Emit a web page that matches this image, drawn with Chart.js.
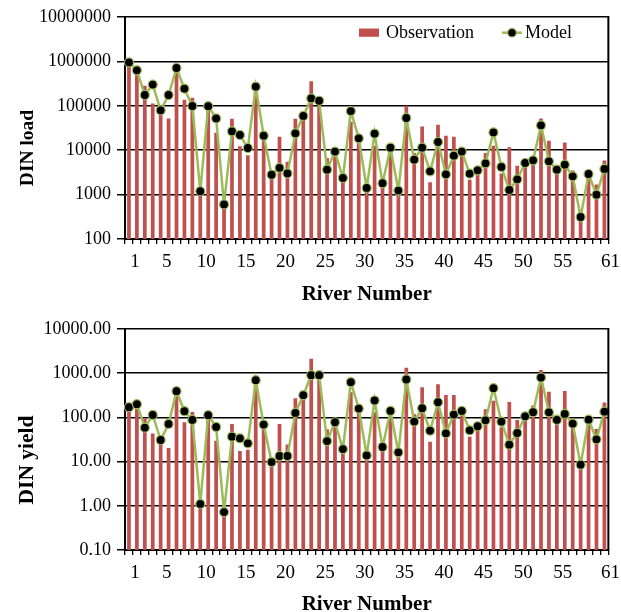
<!DOCTYPE html>
<html>
<head>
<meta charset="utf-8">
<script src="https://cdn.jsdelivr.net/npm/chart.js@4.4.0/dist/chart.umd.min.js"></script>
<style>
html,body{margin:0;padding:0;background:#fff;overflow:hidden;width:621px;height:612px;}
.box{position:absolute;left:0;width:621px;}
#b1{top:0;height:310px;}
#b2{top:310px;height:312px;}
</style>
</head>
<body>
<div class="box" id="b1"><canvas id="c1"></canvas></div>
<div class="box" id="b2"><canvas id="c2"></canvas></div>
<script>
const riverNumbers = ['1','2','3','4','5','6','7','8','9','10','11','12','13','14','15','16','17','18','19','20',
  '21','22','23','24','25','26','27','28','29','30','31','32','33','34','35','36','37','38','39','40',
  '41','42','43','44','45','46','47','48','49','50','51','52','53','54','55','56','57','58','59','60','61'];
const shownXTicks = ['1','5','10','15','20','25','30','35','40','45','50','55','61'];

const obsLoad = [900000, 800000, 284000, 112000, 95000, 52000, 650000, 137000, 152000, 1200,
  88000, 24800, 650, 51000, 12200, 7650, 230000, 19000, 2600, 20200,
  5500, 51000, 62000, 356000, 115000, 6670, 8700, 2500, 44000, 17000,
  1300, 12600, 1550, 10000, 1100, 100700, 8600, 34400, 1890, 37600,
  21200, 20200, 8600, 2170, 3300, 8600, 12600, 3000, 11600, 4490,
  6500, 6000, 52000, 16400, 3600, 15000, 3500, 300, 2900, 1680, 5890];
const modLoad = [950000, 630000, 175000, 300000, 79000, 175000, 710000, 243000, 99000, 1190,
  98000, 52000, 600, 26600, 22000, 11200, 270000, 21200, 2800, 4000,
  3000, 24000, 59000, 147000, 130000, 3650, 9300, 2370, 76000, 18500,
  1410, 23600, 1800, 11400, 1230, 53100, 6120, 11400, 3340, 15300,
  2860, 7530, 9300, 2960, 3520, 5060, 25200, 4190, 1270, 2210,
  5150, 5910, 36300, 5610, 3650, 4720, 2580, 313, 2910, 995, 3780];

const obsYield = [140, 249, 95, 43, 38, 20.3, 323, 77.6, 133, 1.1,
  95, 29.8, 0.75, 71, 17.3, 18.6, 640, 67, 9, 71,
  24.5, 272, 372, 2120, 850, 54, 67, 18, 372, 135,
  12, 131, 20, 125, 15, 1330, 118, 483, 28.3, 565,
  323, 323, 115, 36.7, 52, 153, 237, 59.7, 224, 87.6,
  115, 185, 1175, 378, 115, 398, 95, 8.5, 95, 54.7, 217];
const modYield = [170, 199, 58.7, 114, 30.8, 71, 392, 138, 87.6, 1.1,
  112, 60.8, 0.72, 36.7, 33.6, 25.9, 696, 68.7, 9.76, 13.4,
  13.4, 126, 318, 904, 904, 29.2, 77.6, 19.2, 627, 158,
  13.8, 241, 21.4, 140, 16.2, 721, 80.3, 161, 50, 220,
  43.6, 116, 140, 51, 63, 86, 458, 80, 24.1, 44.4,
  106, 131, 800, 130, 87.6, 120, 72.3, 8.5, 89, 31.9, 135];

const loadTickValues = [100, 1000, 10000, 100000, 1000000, 10000000];
const loadTickLabels = ['100', '1000', '10000', '100000', '1000000', '10000000'];
const yieldTickValues = [0.1, 1, 10, 100, 1000, 10000];
const yieldTickLabels = ['0.10', '1.00', '10.00', '100.00', '1000.00', '10000.00'];

const FONT = "'Liberation Serif', 'Times New Roman', serif";
const RED = '#C0504D';
const GREEN = '#9BBB59';

const decorPlugin = {
  id: 'decor',
  afterDraw(chart, args, opts) {
    const ctx = chart.ctx, a = chart.chartArea;
    ctx.save();
    ctx.strokeStyle = '#000';
    ctx.lineWidth = 2;
    ctx.beginPath();
    ctx.moveTo(a.right, a.top - 1);
    ctx.lineTo(a.right, a.bottom);
    ctx.stroke();
    ctx.restore();

    ctx.save();
    ctx.translate(opts.titleX, opts.titleY);
    ctx.rotate(-Math.PI / 2);
    ctx.font = 'bold ' + opts.titleSize + 'px ' + FONT;
    ctx.textAlign = 'center';
    ctx.textBaseline = 'alphabetic';
    ctx.fillStyle = '#000';
    ctx.fillText(opts.title, 0, 0);
    ctx.restore();

    if (opts.legend) {
      const ds = chart.data.datasets;
      const bar = ds.find(d => d.type !== 'line');
      const line = ds.find(d => d.type === 'line');
      const y = 32.7;
      ctx.save();
      ctx.fillStyle = bar.backgroundColor;
      ctx.fillRect(359, 28.5, 20, 8.3);
      ctx.font = '18px ' + FONT;
      ctx.fillStyle = '#000';
      ctx.textBaseline = 'middle';
      ctx.textAlign = 'left';
      ctx.fillText(bar.label, 386, y + 1);
      ctx.strokeStyle = line.borderColor;
      ctx.lineWidth = 2.5;
      ctx.beginPath();
      ctx.moveTo(502, y);
      ctx.lineTo(522, y);
      ctx.stroke();
      ctx.beginPath();
      ctx.arc(512, y, 4.3, 0, Math.PI * 2);
      ctx.fillStyle = line.pointBackgroundColor;
      ctx.fill();
      ctx.lineWidth = 1.2;
      ctx.strokeStyle = line.pointBorderColor;
      ctx.stroke();
      ctx.fillStyle = '#000';
      ctx.fillText(line.label, 525, y + 1);
      ctx.restore();
    }
  }
};

function makeChart(id, obs, mod, tickValues, tickLabels, yMin, yMax, cfg) {
  return new Chart(document.getElementById(id), {
    type: 'bar',
    data: {
      labels: riverNumbers,
      datasets: [
        {
          type: 'line',
          label: 'Model',
          data: mod,
          borderColor: GREEN,
          borderWidth: 2.5,
          pointRadius: 4.5,
          pointBackgroundColor: '#000',
          pointBorderColor: GREEN,
          pointBorderWidth: 1.2,
          tension: 0,
          order: 0
        },
        {
          type: 'bar',
          label: 'Observation',
          data: obs,
          backgroundColor: RED,
          barPercentage: 0.47,
          categoryPercentage: 1.0,
          order: 1
        }
      ]
    },
    options: {
      responsive: true,
      maintainAspectRatio: false,
      animation: false,
      layout: { padding: { top: cfg.padTop, right: 12, left: 0, bottom: 0 } },
      plugins: {
        legend: { display: false },
        tooltip: { enabled: false },
        decor: { title: cfg.title, titleX: 33, titleY: cfg.titleY, titleSize: cfg.titleSize, legend: cfg.legend }
      },
      scales: {
        x: {
          type: 'category',
          offset: true,
          afterFit: (s) => { s.height = cfg.xHeight; },
          grid: { display: true, offset: true, drawOnChartArea: false, drawTicks: true, tickLength: 5, color: '#000', lineWidth: 1.3 },
          border: { display: true, color: '#000', width: 2 },
          ticks: {
            autoSkip: false, maxRotation: 0, minRotation: 0, padding: 7,
            labelOffset: 6,
            color: '#000',
            font: { family: FONT, size: 19 },
            callback: function (val) {
              const lab = this.getLabelForValue(val);
              return shownXTicks.includes(lab) ? lab : '';
            }
          },
          title: {
            display: true, text: 'River Number', color: '#000',
            font: { family: FONT, size: 21, weight: 'bold' },
            padding: { top: 0, bottom: cfg.xTitlePad }
          }
        },
        y: {
          type: 'logarithmic',
          min: yMin, max: yMax,
          afterFit: (s) => { s.width = 125; },
          afterBuildTicks: (s) => { s.ticks = tickValues.map(v => ({ value: v })); },
          grid: { display: true, color: '#000', lineWidth: 1.5, drawTicks: true, tickLength: 8 },
          border: { display: true, color: '#000', width: 2 },
          ticks: {
            padding: 6, color: '#000',
            font: { family: FONT, size: 18 },
            callback: (v, i) => tickLabels[i]
          },
          title: { display: false }
        }
      }
    },
    plugins: [decorPlugin]
  });
}

makeChart('c1', obsLoad, modLoad, loadTickValues, loadTickLabels, 100, 10000000,
  { padTop: 17, xHeight: 71, xTitlePad: 3, title: 'DIN load', titleY: 148, titleSize: 19.5, legend: true });
makeChart('c2', obsYield, modYield, yieldTickValues, yieldTickLabels, 0.1, 10000,
  { padTop: 19, xHeight: 72, xTitlePad: 5, title: 'DIN yield', titleY: 150, titleSize: 21.5, legend: false });
</script>
</body>
</html>
